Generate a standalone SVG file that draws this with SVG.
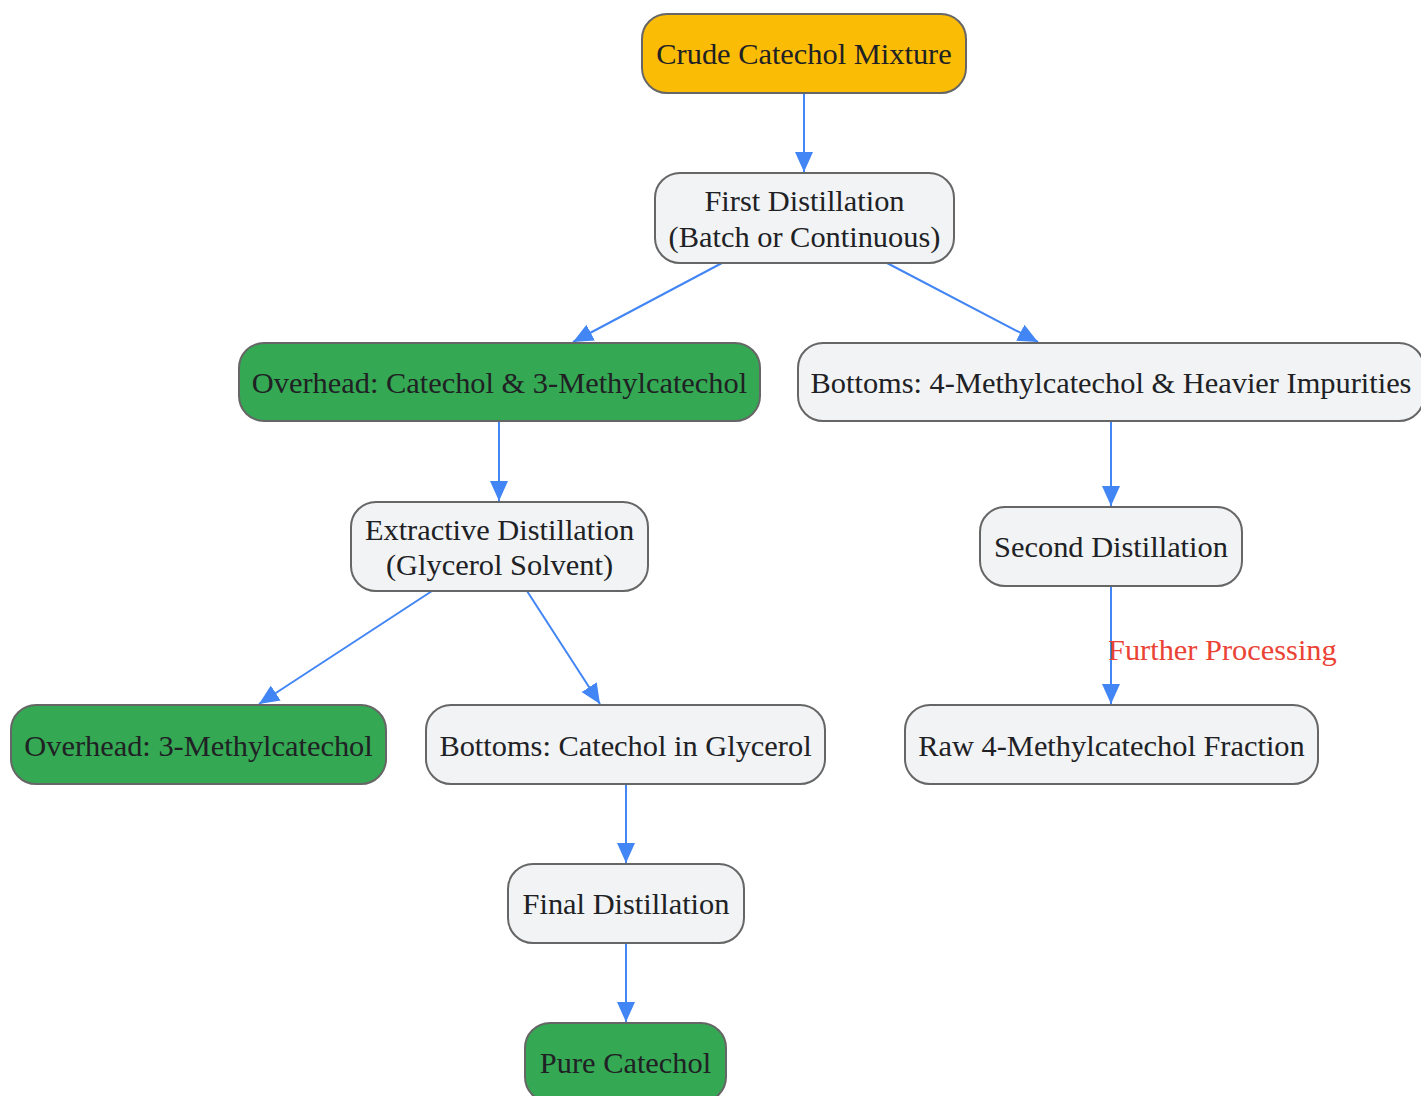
<svg xmlns="http://www.w3.org/2000/svg" width="1421" height="1096" viewBox="0 0 1421 1096">
<style>
.n rect{stroke:#666666;stroke-width:2}
.grey rect{fill:#F1F3F4}
.green rect{fill:#34A853}
.yellow rect{fill:#FBBC05}
.n text{font-family:"Liberation Serif","Times New Roman",serif;font-size:30.4px;fill:#202124;text-anchor:middle}
.e path{fill:none;stroke:#4285F4;stroke-width:2}
.lbl{font-family:"Liberation Serif","Times New Roman",serif;font-size:30.4px;fill:#EA4335}
</style>
<defs>
<marker id="arr" markerUnits="userSpaceOnUse" markerWidth="20" markerHeight="20" viewBox="0 0 20 20" refX="20" refY="10" orient="auto">
<path d="M0,1 L20,10 L0,19 Z" fill="#4285F4"/>
</marker>
</defs>
<rect width="1421" height="1096" fill="#FFFFFF"/>
<g id="edges" class="e">
<path d="M804,93 L804,172" marker-end="url(#arr)"/>
<path d="M722,263 L573,342" marker-end="url(#arr)"/>
<path d="M887,263 L1038,342" marker-end="url(#arr)"/>
<path d="M499,421 L499,501" marker-end="url(#arr)"/>
<path d="M1111,421 L1111,506" marker-end="url(#arr)"/>
<path d="M432,591 L259,704" marker-end="url(#arr)"/>
<path d="M527,591 L600,704" marker-end="url(#arr)"/>
<path d="M1111,586 L1111,704" marker-end="url(#arr)"/>
<path d="M626,784 L626,863" marker-end="url(#arr)"/>
<path d="M626,943 L626,1022" marker-end="url(#arr)"/>
<text class="lbl" x="1108" y="660">Further Processing</text>
</g>
<g id="crude" class="n yellow"><rect x="642" y="14" width="324" height="79" rx="25"/><text x="804" y="64">Crude Catechol Mixture</text></g>
<g id="first" class="n grey"><rect x="655" y="173" width="299" height="90" rx="25"/><text x="804.5" y="211">First Distillation</text><text x="804.5" y="247">(Batch or Continuous)</text></g>
<g id="overhead1" class="n green"><rect x="239" y="343" width="521" height="78" rx="25"/><text x="499.5" y="393">Overhead: Catechol &amp; 3-Methylcatechol</text></g>
<g id="bottoms1" class="n grey"><rect x="798" y="343" width="626" height="78" rx="25"/><text x="1111" y="393">Bottoms: 4-Methylcatechol &amp; Heavier Impurities</text></g>
<g id="extractive" class="n grey"><rect x="351" y="502" width="297" height="89" rx="25"/><text x="499.5" y="540">Extractive Distillation</text><text x="499.5" y="575">(Glycerol Solvent)</text></g>
<g id="second" class="n grey"><rect x="980" y="507" width="262" height="79" rx="25"/><text x="1111" y="557">Second Distillation</text></g>
<g id="overhead2" class="n green"><rect x="11" y="705" width="375" height="79" rx="25"/><text x="198.5" y="756">Overhead: 3-Methylcatechol</text></g>
<g id="bottoms2" class="n grey"><rect x="426" y="705" width="399" height="79" rx="25"/><text x="625.5" y="756">Bottoms: Catechol in Glycerol</text></g>
<g id="raw" class="n grey"><rect x="905" y="705" width="413" height="79" rx="25"/><text x="1111.5" y="756">Raw 4-Methylcatechol Fraction</text></g>
<g id="final" class="n grey"><rect x="508" y="864" width="236" height="79" rx="25"/><text x="626" y="914">Final Distillation</text></g>
<g id="pure" class="n green"><rect x="525" y="1023" width="201" height="79" rx="25"/><text x="625.5" y="1073">Pure Catechol</text></g>
</svg>
